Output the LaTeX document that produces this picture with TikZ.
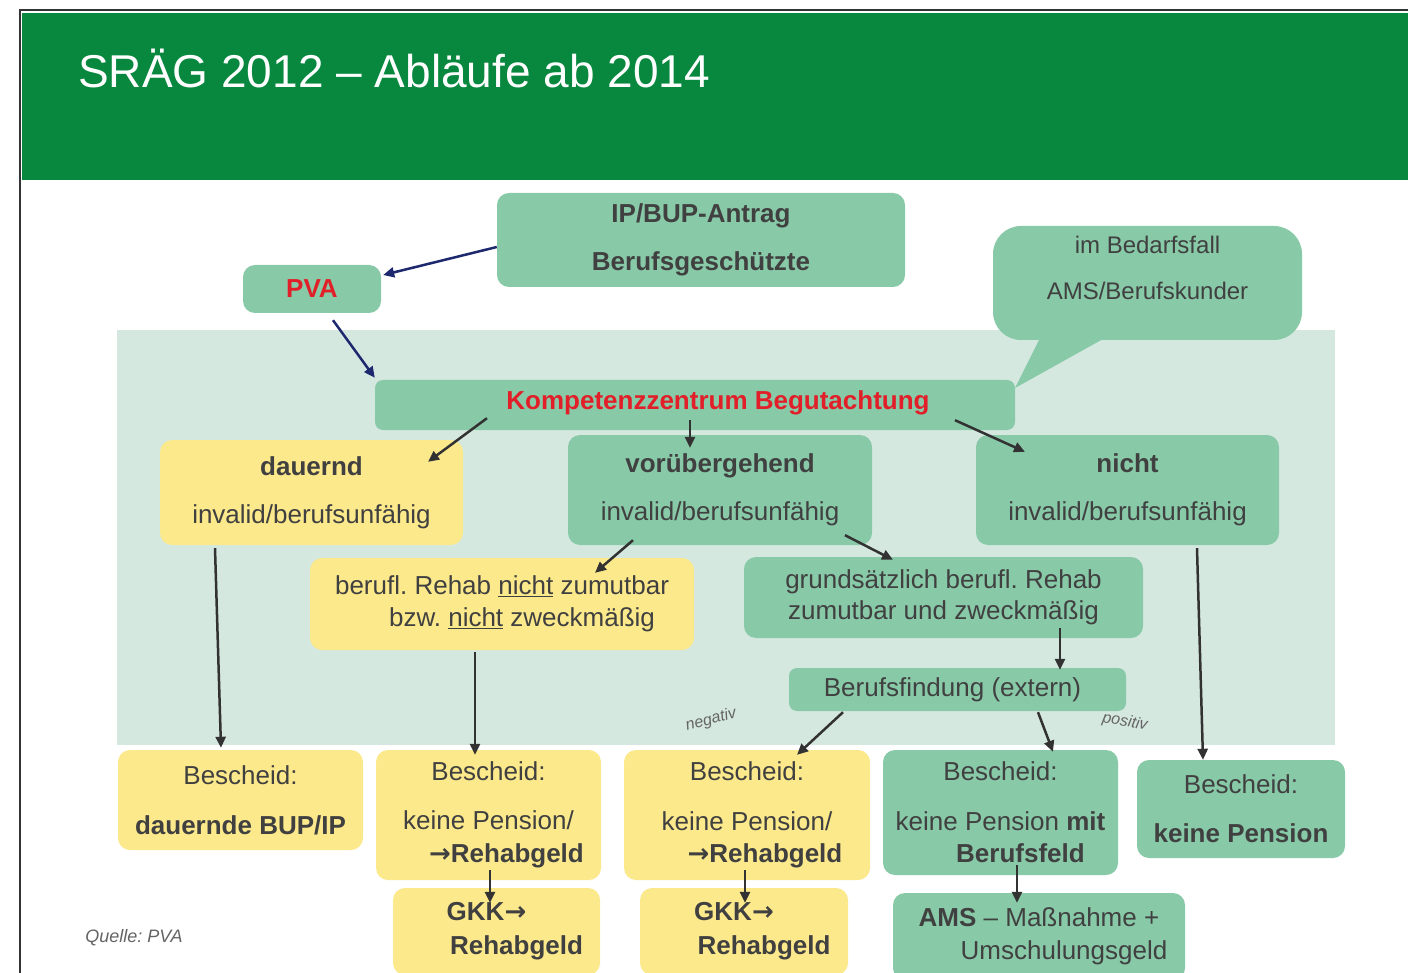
\documentclass[tikz,border=0pt]{standalone}
\usepackage{fontspec}
\setmainfont{Liberation Sans}
\newfontfamily\arrfont{DejaVu Sans}
\newcommand{\rarr}{{\arrfont →}}
\frenchspacing
\usetikzlibrary{arrows.meta}
\definecolor{hdr}{RGB}{8,136,62}
\definecolor{gboxc}{RGB}{136,201,168}
\definecolor{panelc}{RGB}{212,232,224}
\definecolor{yboxc}{RGB}{252,233,140}
\definecolor{txt}{RGB}{64,64,64}
\definecolor{kred}{RGB}{226,30,40}
\definecolor{navy}{RGB}{30,40,110}
\definecolor{arr}{RGB}{50,50,50}
\definecolor{lbl}{RGB}{100,100,100}
\begin{document}
\begin{tikzpicture}[x=1pt,y=-1pt,
 boxbase/.style={rounded corners=12pt, inner sep=0pt, text=txt, align=center, font=\fontsize{26}{48}\selectfont},
 gbx/.style={boxbase, fill=gboxc},
 ybx/.style={boxbase, fill=yboxc},
 conn/.style={draw=arr, line width=2.5pt, -{Triangle[length=11pt,width=10pt]}},
 nconn/.style={conn, draw=navy},
 small/.style={text=lbl, font=\fontsize{16}{18}\selectfont\itshape, inner sep=0pt},
 lowered/.style={text depth=0pt, execute at begin node={\vspace*{#1}}},
]
\useasboundingbox (0,0) rectangle (1408,973);
\fill[white] (0,0) rectangle (1408,973);
\draw[line width=1.2pt, black!80] (20,973) -- (20,10) -- (1408,10);
\fill[hdr] (22,13) rectangle (1408,180);
\node[anchor=base west, text=white, font=\fontsize{46}{50}\selectfont, inner sep=0pt] (title) at (78,88) {SRÄG 2012 – Abläufe ab 2014};
\fill[panelc] (117,330) rectangle (1335,745);

% top boxes
\node[gbx, minimum width=408pt, minimum height=94pt] (antrag) at (701,240) {\textbf{IP/BUP-Antrag}\\\textbf{Berufsgeschützte}};
\node[gbx, minimum width=138pt, minimum height=48pt, text=kred] (pva) at (312,289) {\textbf{PVA}};
\node[gbx, rounded corners=28pt, minimum width=309pt, minimum height=114pt] (bubble) at (1147.5,283) {};
\fill[gboxc] (1042,334) -- (1112,334) -- (1015,388) -- cycle;
\node[text=txt, align=center, inner sep=0pt, font=\fontsize{24}{46}\selectfont] (bubbletext) at (1147.5,268) {im Bedarfsfall\\AMS/Berufskunder};

\node[gbx, rounded corners=8pt, minimum width=640pt, minimum height=50pt] (kz) at (695,405) {};
\node[text=kred, inner sep=0pt, font=\fontsize{26}{30}\selectfont\bfseries] (kztext) at (718,403) {Kompetenzzentrum Begutachtung};

% second level
\node[ybx, minimum width=303pt, minimum height=105pt] (dauernd) at (311.5,492.5) {\textbf{dauernd}\\invalid/berufsunfähig};
\node[gbx, minimum width=304pt, minimum height=110pt] (vorueb) at (720,490) {\textbf{vorübergehend}\\invalid/berufsunfähig};
\node[gbx, minimum width=303pt, minimum height=110pt] (nicht) at (1127.5,490) {\textbf{nicht}\\invalid/berufsunfähig};

% third level
\node[ybx, minimum width=384pt, minimum height=92pt, font=\fontsize{26}{32}\selectfont] (berufl) at (502,604) {berufl. Rehab \underline{nicht} zumutbar\\\hspace*{40pt}bzw. \underline{nicht} zweckmäßig};
\node[gbx, minimum width=399pt, minimum height=81pt, font=\fontsize{26}{31}\selectfont] (grund) at (943.5,597.5) {grundsätzlich berufl. Rehab\\zumutbar und zweckmäßig};
\node[gbx, rounded corners=8pt, minimum width=337pt, minimum height=43pt, font=\fontsize{26}{30}\selectfont] (bf) at (957.5,689.5) {\hspace*{-10pt}Berufsfindung (extern)};

\node[small, rotate=15] (neg) at (711,720) {negativ};
\node[small, rotate=-10] (pos) at (1125,722) {positiv};

% bottom row
\node[ybx, minimum width=245pt, minimum height=100pt, font=\fontsize{26}{50}\selectfont] (b1) at (240.5,800) {Bescheid:\\\textbf{dauernde BUP/IP}};
\node[ybx, minimum width=225pt, minimum height=130pt, font=\fontsize{26}{33}\selectfont] (b2) at (488.5,815) {Bescheid:\\[16pt]keine Pension/\\\hspace*{36pt}\textbf{\rarr Rehabgeld}};
\node[ybx, minimum width=207pt, minimum height=87pt, font=\fontsize{26}{34}\selectfont] (g1) at (496.5,931.5) {\hspace*{-20pt}\textbf{GKK\rarr}\\\hspace*{40pt}\textbf{Rehabgeld}};
\node[ybx, minimum width=246pt, minimum height=130pt, font=\fontsize{26}{32}\selectfont] (b3) at (747,815) {Bescheid:\\[18pt]keine Pension/\\\hspace*{36pt}\textbf{\rarr Rehabgeld}};
\node[ybx, minimum width=208pt, minimum height=87pt, font=\fontsize{26}{34}\selectfont] (g2) at (744,931.5) {\hspace*{-20pt}\textbf{GKK\rarr}\\\hspace*{40pt}\textbf{Rehabgeld}};
\node[gbx, minimum width=235pt, minimum height=125pt, font=\fontsize{26}{32}\selectfont] (b4) at (1000.5,812.5) {Bescheid:\\[18pt]keine Pension \textbf{mit}\\\hspace*{40pt}\textbf{Berufsfeld}};
\node[gbx, minimum width=292pt, minimum height=87pt, font=\fontsize{26}{33}\selectfont] (ams) at (1039,936.5) {\textbf{AMS} – Maßnahme +\\\hspace*{50pt}Umschulungsgeld};
\node[gbx, minimum width=208pt, minimum height=98pt, font=\fontsize{26}{49}\selectfont] (b5) at (1241,809) {Bescheid:\\\textbf{keine Pension}};

\node[text=lbl, inner sep=0pt, font=\fontsize{18}{20}\selectfont\itshape] (quelle) at (134,938) {Quelle: PVA};

% connectors
\draw[nconn] ([yshift=-7pt]antrag.west) -- ([xshift=2pt,yshift=14pt]pva.east);
\draw[nconn] ([xshift=21pt,yshift=-7pt]pva.south) -- ([yshift=2pt]kz.north west);
\draw[conn] ([xshift=-208pt,yshift=12pt]kz.south) -- ([xshift=116.5pt,yshift=-22pt]dauernd.north);
\draw[conn] ([xshift=-5pt,yshift=10pt]kz.south) -- ([xshift=-30pt,yshift=-13pt]vorueb.north);
\draw[conn] ([xshift=260pt,yshift=10pt]kz.south) -- ([xshift=-102.5pt,yshift=-17pt]nicht.north);
\draw[conn] ([xshift=-87pt,yshift=5pt]vorueb.south) -- ([xshift=93pt,yshift=-15pt]berufl.north);
\draw[conn] ([xshift=125pt,yshift=10pt]vorueb.south) -- ([xshift=-50.5pt,yshift=-3pt]grund.north);
\draw[conn] ([xshift=116.5pt,yshift=10pt]grund.south) -- ([xshift=102.5pt,yshift=-2pt]bf.north);
\draw[conn] ([xshift=-96.5pt,yshift=-3pt]dauernd.south) -- ([xshift=-19.5pt,yshift=2pt]b1.north);
\draw[conn] ([xshift=-27pt,yshift=-2pt]berufl.south) -- ([xshift=-13.5pt,yshift=-5pt]b2.north);
\draw[conn] ([xshift=69.5pt,yshift=-3pt]nicht.south) -- ([xshift=-38pt]b5.north);
\draw[conn] ([xshift=-114.5pt,yshift=-1pt]bf.south) -- ([xshift=50pt,yshift=-5pt]b3.north);
\draw[conn] ([xshift=80.5pt,yshift=-1pt]bf.south) -- ([xshift=52.5pt,yshift=-2pt]b4.north);
\draw[conn] ([xshift=1.5pt,yshift=10pt]b2.south) -- ([xshift=-6.5pt,yshift=-15pt]g1.north);
\draw[conn] ([xshift=-2pt,yshift=10pt]b3.south) -- ([xshift=1pt,yshift=-15pt]g2.north);
\draw[conn] ([xshift=16.5pt,yshift=10pt]b4.south) -- ([xshift=-22pt,yshift=-10pt]ams.north);
\end{tikzpicture}
\end{document}
